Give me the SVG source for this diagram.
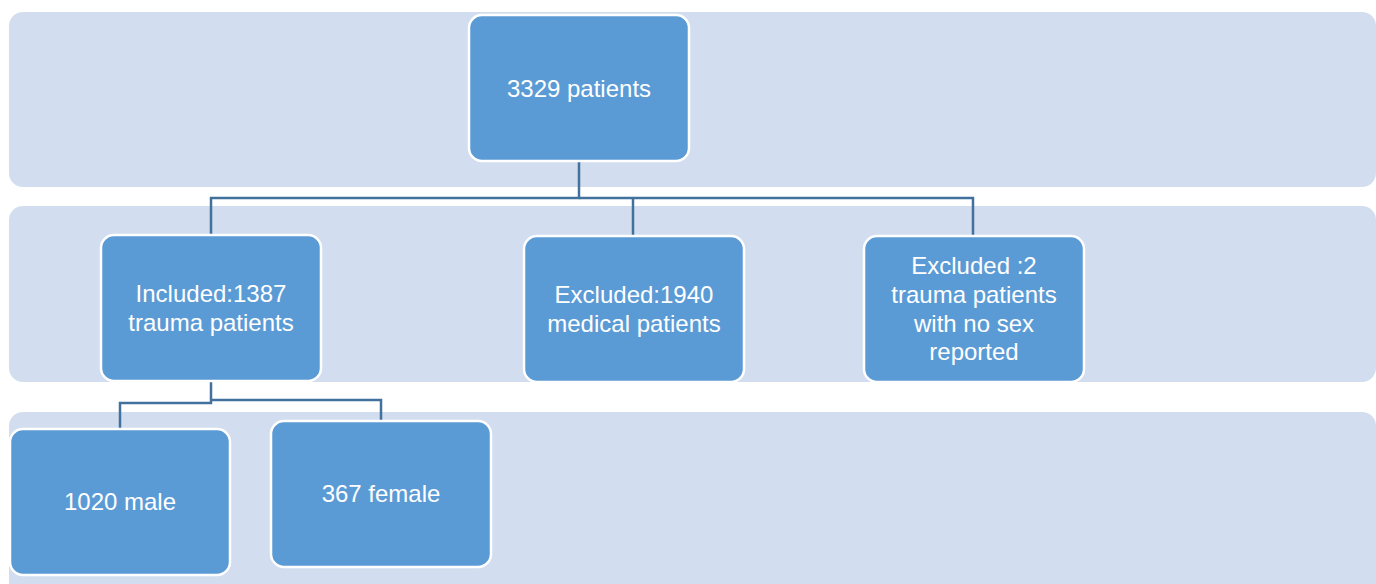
<svg xmlns="http://www.w3.org/2000/svg" width="1376" height="584" viewBox="0 0 1376 584">
<style>
.band{fill:#D2DEEF}
.node{fill:#5B9BD5;stroke:#FFFFFF;stroke-width:2.5}
.t{font-family:"Liberation Sans",Arial,sans-serif;font-size:24px;fill:#FFFFFF;text-anchor:middle}
.c{fill:none;stroke:#41719C;stroke-width:2.5}
</style>
<rect width="1376" height="584" fill="#FFFFFF"/>
<g id="bands">
<rect class="band" x="9" y="12" width="1367" height="175" rx="14"/>
<rect class="band" x="9" y="206" width="1367" height="176" rx="14"/>
<rect class="band" x="9" y="412" width="1367" height="190" rx="14"/>
</g>
<g id="connectors">
<polyline class="c" points="579,161 579,198 211,198 211,235"/>
<polyline class="c" points="579,198 973,198 973,236"/>
<line class="c" x1="633" y1="198" x2="633" y2="236"/>
<polyline class="c" points="211,381 211,403 120,403 120,429"/>
<polyline class="c" points="211,400 381,400 381,421"/>
</g>
<g id="n-total">
<rect class="node" x="469" y="15" width="220" height="146" rx="13"/>
<text class="t" x="579" y="97">3329 patients</text>
</g>
<g id="n-included">
<rect class="node" x="101" y="235" width="220" height="146" rx="13"/>
<text class="t" x="211" y="302">Included:1387</text>
<text class="t" x="211" y="331">trauma patients</text>
</g>
<g id="n-excluded-medical">
<rect class="node" x="524" y="236" width="220" height="146" rx="13"/>
<text class="t" x="634" y="303">Excluded:1940</text>
<text class="t" x="634" y="332">medical patients</text>
</g>
<g id="n-excluded-nosex">
<rect class="node" x="864" y="236" width="220" height="146" rx="13"/>
<text class="t" x="974" y="274">Excluded :2</text>
<text class="t" x="974" y="303">trauma patients</text>
<text class="t" x="974" y="332">with no sex</text>
<text class="t" x="974" y="360">reported</text>
</g>
<g id="n-male">
<rect class="node" x="10" y="429" width="220" height="146" rx="13"/>
<text class="t" x="120" y="510">1020 male</text>
</g>
<g id="n-female">
<rect class="node" x="271" y="421" width="220" height="146" rx="13"/>
<text class="t" x="381" y="502">367 female</text>
</g>
</svg>
